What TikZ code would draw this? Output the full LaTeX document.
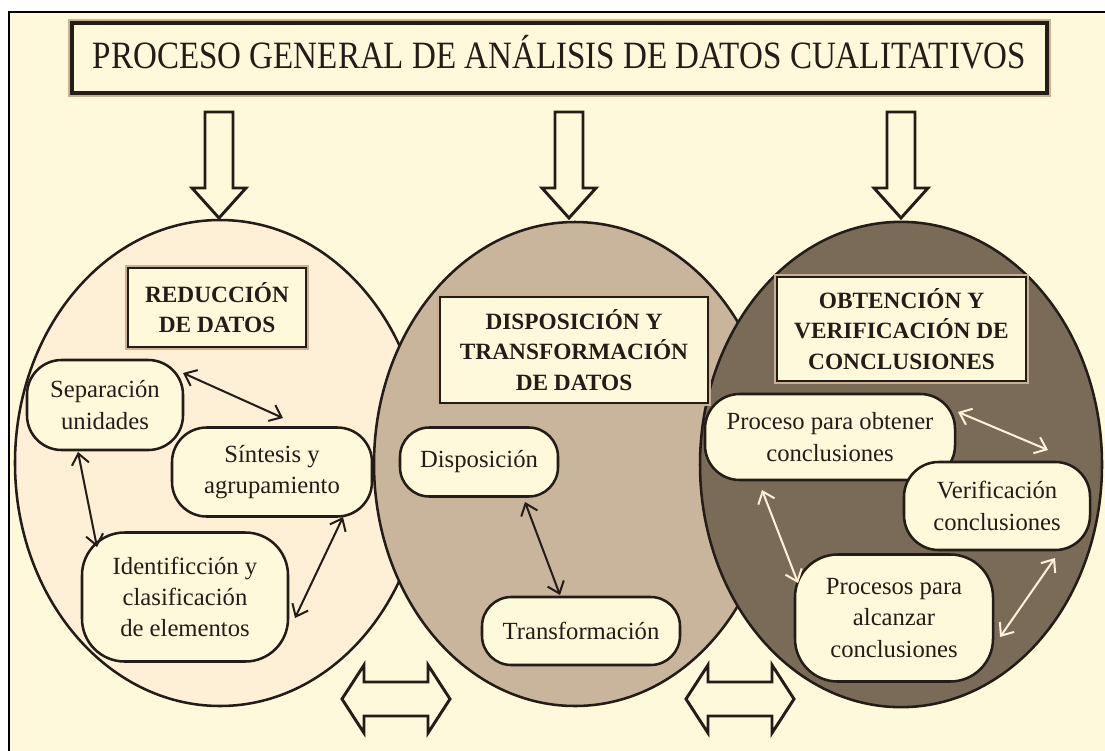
\documentclass[tikz,border=0pt]{standalone}
\usepackage{fontspec}
\setmainfont{Liberation Serif}
\usetikzlibrary{arrows.meta,calc}
\definecolor{bg}{HTML}{FFF9DC}
\definecolor{lefill}{HTML}{FDF0D6}
\definecolor{midfill}{HTML}{C8B59C}
\definecolor{rightfill}{HTML}{7A6A58}
\definecolor{ink}{HTML}{241C17}
\definecolor{halo}{HTML}{C9B193}
\definecolor{lightarrow}{HTML}{FFF2D8}
\begin{document}
\begin{tikzpicture}[x=0.75pt,y=-0.75pt,
  ell/.style={draw=ink,line width=1.9pt},
  blob/.style={draw=ink,fill=bg,line width=1.9pt,rounded corners=26pt,inner sep=0pt,align=center,
    font=\fontsize{18.5}{23.5}\selectfont,text=ink},
  head/.style={draw=ink,fill=bg,line width=2.2pt,inner sep=0pt,align=center,
    font=\fontsize{17.5}{23}\selectfont\bfseries,text=ink,preaction={draw=halo,line width=4pt}},
  link/.style={draw=ink,line width=1.5pt,{Straight Barb[length=8pt,width=13pt]}-{Straight Barb[length=8pt,width=13pt]}},
  linkw/.style={link,draw=lightarrow},
  block/.style={draw=ink,fill=bg,line width=2.2pt,line join=miter},
]
\fill[white] (0,0) rectangle (1105,750);
\useasboundingbox (0,0) rectangle (1105,750);
\draw[fill=bg,line width=1.5pt] (9,12) rectangle (1115,760);

% ellipses
\draw[ell,fill=lefill] (220,463) ellipse [x radius=153.75pt, y radius=182.25pt];
\draw[ell,fill=midfill] (575,464) ellipse [x radius=150.75pt, y radius=181.5pt];
\draw[ell,fill=rightfill] (901,464.5) ellipse [x radius=150.75pt, y radius=182pt];

% title
\node[draw=ink,fill=bg,line width=3pt,preaction={draw=halo,line width=6.5pt},
  minimum width=731.25pt,minimum height=52.5pt,inner sep=0pt,text=ink] (title) at (559.5,58)
  {\raisebox{-7.5pt}[0pt][0pt]{\resizebox{700pt}{\height}{\fontsize{29}{32}\selectfont PROCESO GENERAL DE ANÁLISIS DE DATOS CUALITATIVOS}}};

% down block arrows
\foreach \c in {219,569,901}{
  \draw[block] (\c-14,112) -- (\c+14,112) -- (\c+14,188) -- (\c+27,188) -- (\c,218)
    -- (\c-27,188) -- (\c-14,188) -- cycle;
}
% horizontal double block arrows
\foreach \c in {396,740}{
  \draw[block] (\c-54,699) -- (\c-32,665) -- (\c-32,682) -- (\c+32,682) -- (\c+32,665)
    -- (\c+54,699) -- (\c+32,733) -- (\c+32,716) -- (\c-32,716) -- (\c-32,733) -- cycle;
}

% headings
\node[head,minimum width=133.5pt,minimum height=59.25pt] (redu) at (217,307.5) {REDUCCIÓN\\DE DATOS};
\node[head,minimum width=201pt,minimum height=79.5pt] (disp) at (574,350) {DISPOSICIÓN Y\\TRANSFORMACIÓN\\DE DATOS};
\node[head,minimum width=186.75pt,minimum height=78pt] (obte) at (901.5,329) {OBTENCIÓN Y\\VERIFICACIÓN DE\\CONCLUSIONES};

% left nodes
\node[blob,minimum width=117pt,minimum height=67.5pt] (sep) at (105,405) {Separación\\unidades};
\node[blob,minimum width=150pt,minimum height=66.75pt] (sin) at (272,472) {Síntesis y\\agrupamiento};
\node[blob,minimum width=154.5pt,minimum height=96.75pt,rounded corners=32pt] (ide) at (185,597) {Identificción y\\clasificación\\de elementos};
% middle nodes
\node[blob,minimum width=118.5pt,minimum height=51.75pt,rounded corners=22pt] (dis) at (479,462) {\raisebox{4pt}{Disposición}};
\node[blob,minimum width=148.5pt,minimum height=51pt,rounded corners=22pt] (tra) at (581,631) {Transformación};
% right nodes
\node[blob,minimum width=187.5pt,minimum height=64.5pt] (pro) at (830,437) {Proceso para obtener\\conclusiones};
\node[blob,minimum width=139.5pt,minimum height=66pt] (ver) at (997,506) {Verificación\\conclusiones};
\node[blob,minimum width=148.5pt,minimum height=95.25pt,rounded corners=32pt] (pal) at (894,618) {Procesos para\\alcanzar\\conclusiones};

% links
\draw[link] ($(sep.center)+(78,-32)$) -- ($(sin.center)+(11,-54)$);
\draw[link] ($(sep.center)+(-27,47)$) -- ($(ide.center)+(-88,-50)$);
\draw[link] ($(sin.center)+(71,45)$) -- ($(ide.center)+(110,21)$);
\draw[link] ($(dis.center)+(46,40)$) -- ($(tra.center)+(-21,-36)$);
\draw[linkw] ($(pro.center)+(128,-25)$) -- ($(ver.center)+(51,-56)$);
\draw[linkw] ($(pro.center)+(-68,53)$) -- ($(pal.center)+(-96,-35)$);
\draw[linkw] ($(ver.center)+(58,52)$) -- ($(pal.center)+(106,19)$);
\end{tikzpicture}
\end{document}
